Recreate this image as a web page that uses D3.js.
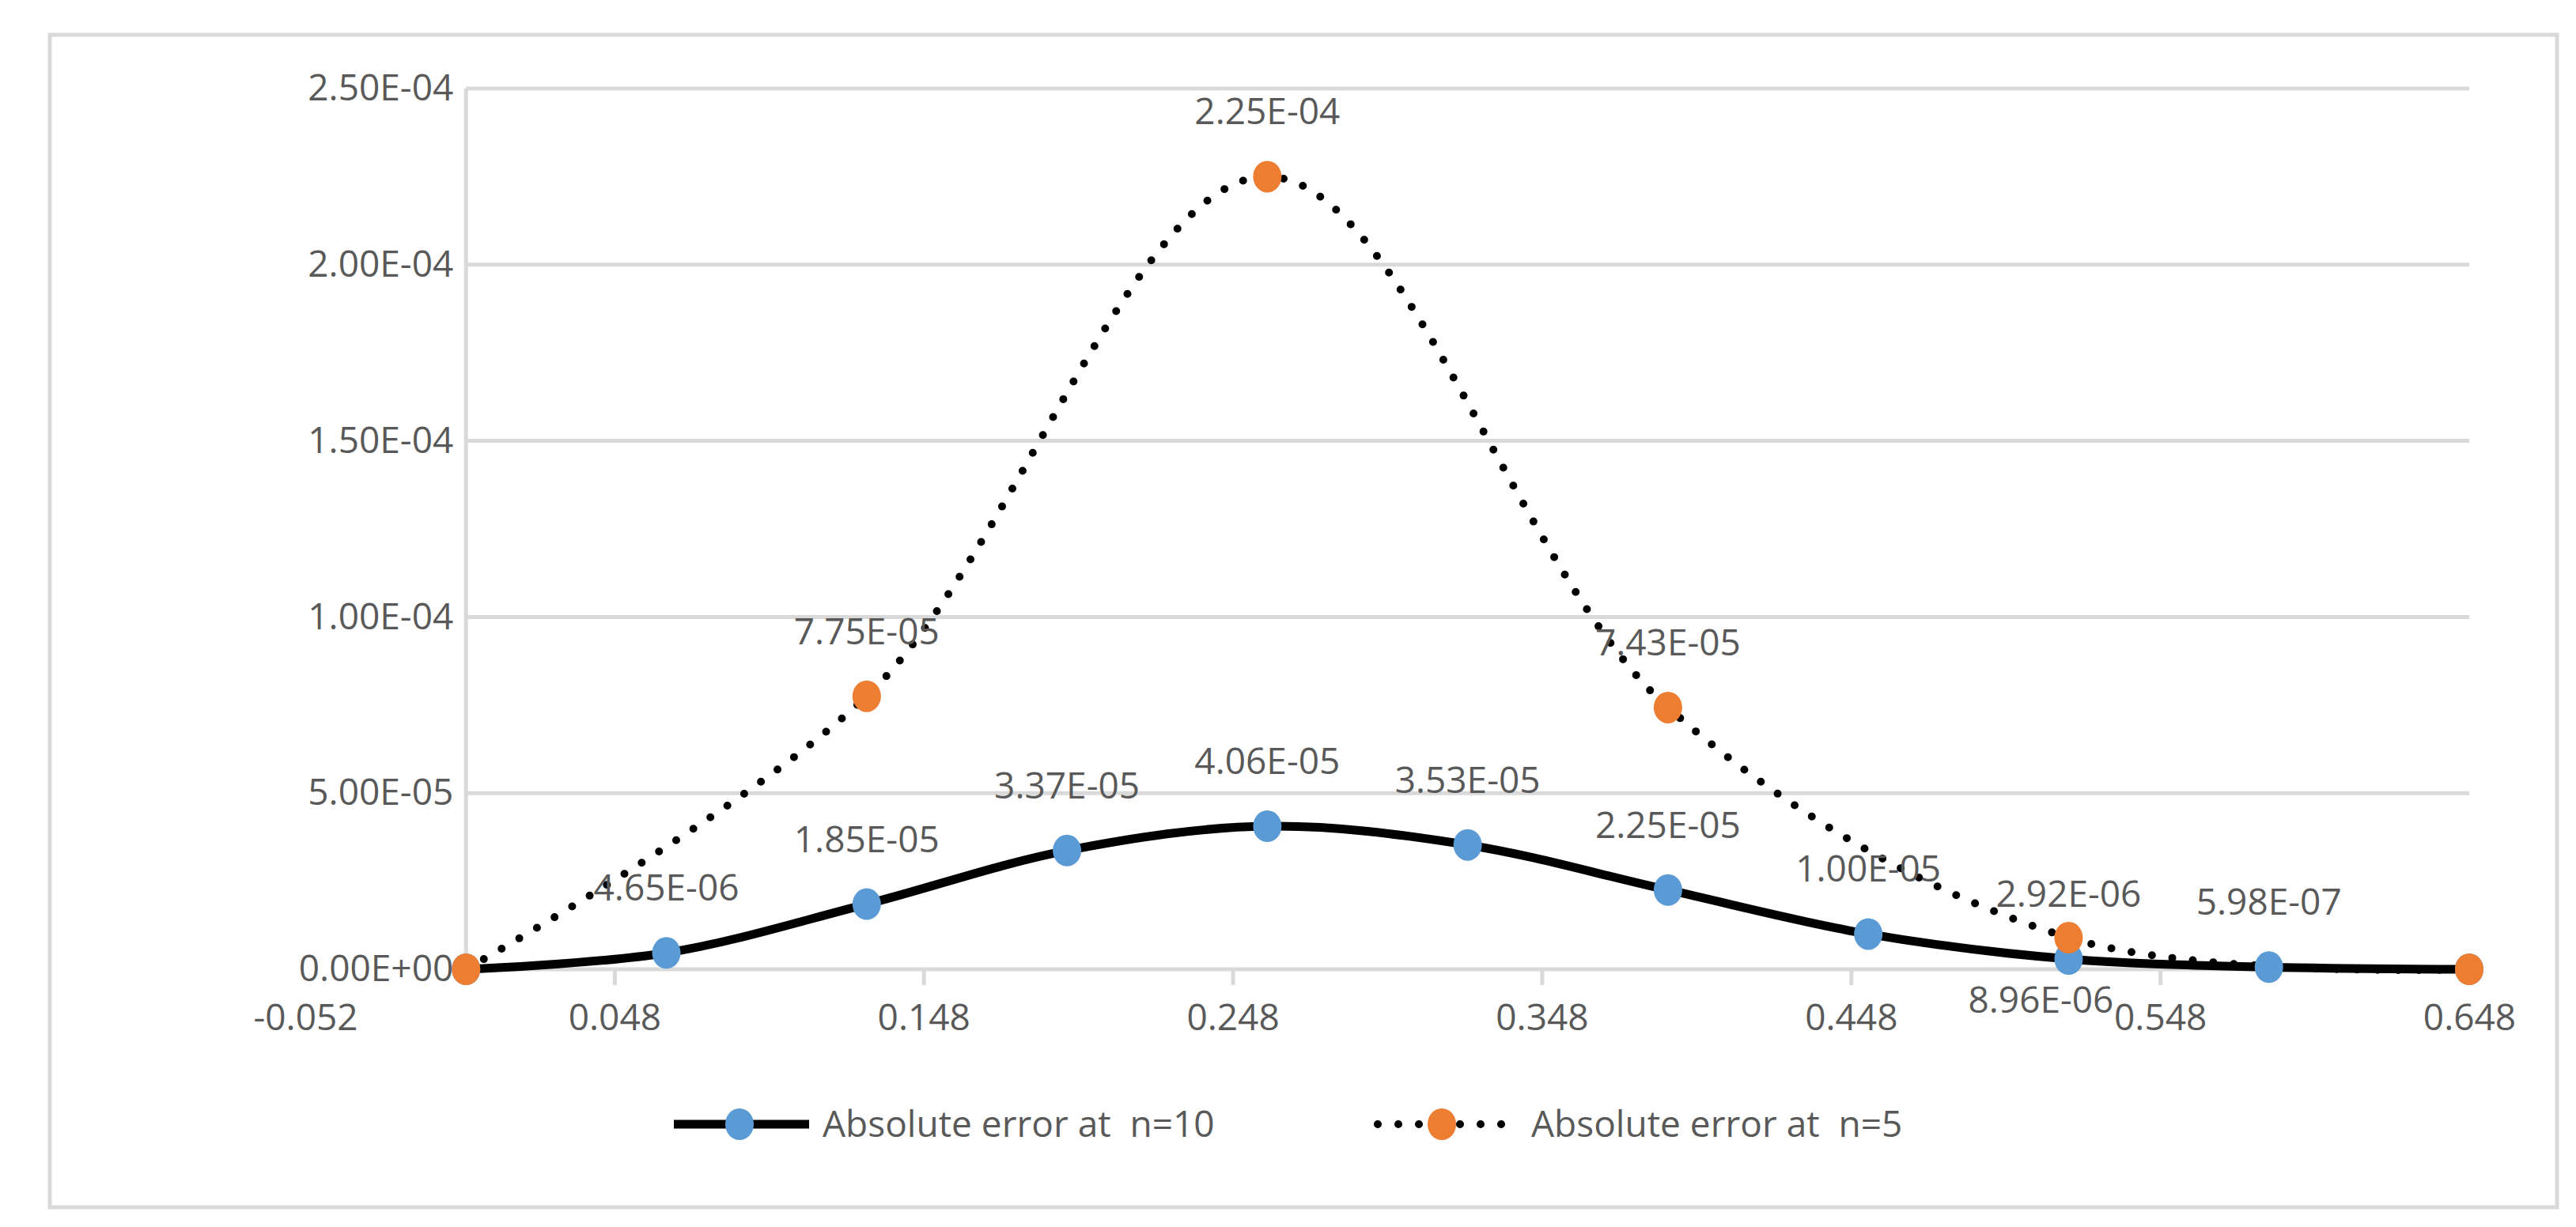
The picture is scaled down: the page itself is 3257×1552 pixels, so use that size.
<!DOCTYPE html>
<html><head><meta charset="utf-8">
<script src="https://cdn.jsdelivr.net/npm/d3@7"></script>
<style>body{margin:0;background:#fff}svg{display:block}text{white-space:pre}</style>
</head><body>
<script>
// data
const xs10 = [0, 0.0648, 0.1296, 0.1944, 0.2592, 0.324, 0.3888, 0.4536, 0.5184, 0.5832, 0.648];
const err10 = [0, 4.65e-6, 1.85e-5, 3.37e-5, 4.06e-5, 3.53e-5, 2.25e-5, 1.00e-5, 2.92e-6, 5.98e-7, 0];
const xs5 = [0, 0.1296, 0.2592, 0.3888, 0.5184, 0.648];
const err5 = [0, 7.75e-5, 2.25e-4, 7.43e-5, 8.96e-6, 0];
const xTicks = [-0.052, 0.048, 0.148, 0.248, 0.348, 0.448, 0.548, 0.648];
const yTicks = [0, 5e-5, 1e-4, 1.5e-4, 2e-4, 2.5e-4];
const names = ["Absolute error at  n=10", "Absolute error at  n=5"];

const W = 3257, H = 1552;
const font = "'Liberation Sans Narrow','Arial Narrow','Open Sans',sans-serif";
const txt = "#595959", grid = "#d9d9d9", blue = "#5b9bd5", orange = "#ed7d31";

const svg = d3.select("body").append("svg").attr("width", W).attr("height", H);
svg.append("rect").attr("x", 63).attr("y", 44).attr("width", 3170).attr("height", 1483)
  .attr("fill", "#fff").attr("stroke", grid).attr("stroke-width", 5);

const x = d3.scaleLinear().domain([-0.052, 0.648]).range([386, 3122]);
const y = d3.scaleLinear().domain([0, 2.5e-4]).range([1226, 112]);

// gridlines
svg.append("g").selectAll("line").data(yTicks).join("line")
  .attr("x1", x(0)).attr("x2", x(0.648)).attr("y1", d => y(d)).attr("y2", d => y(d))
  .attr("stroke", grid).attr("stroke-width", 5);
svg.append("line").attr("x1", x(0)).attr("x2", x(0)).attr("y1", y(2.5e-4)).attr("y2", y(0))
  .attr("stroke", grid).attr("stroke-width", 5);

// x axis
const xa = svg.append("g").attr("transform", `translate(0,${y(0)})`)
  .call(d3.axisBottom(x).tickValues(xTicks).tickFormat(d => d.toFixed(3)).tickSize(20).tickPadding(24));
xa.select(".domain").remove();
xa.selectAll("line").attr("stroke", grid).attr("stroke-width", 5);
xa.selectAll("text").attr("fill", txt).style("font", `46px ${font}`);
xa.selectAll(".tick").filter(d => d < 0).select("line").remove();

// y axis labels
const yfmt = d => d === 0 ? "0.00E+00" : d.toExponential(2).toUpperCase().replace(/E-(\d)$/, "E-0$1");
const ya = svg.append("g").attr("transform", `translate(${x(0)},0)`)
  .call(d3.axisLeft(y).tickValues(yTicks).tickFormat(yfmt).tickSize(0).tickPadding(16));
ya.select(".domain").remove();
ya.selectAll("text").attr("fill", txt).style("font", `46px ${font}`);

const curve = d3.curveCatmullRom.alpha(0.5);
const pts10 = xs10.map((v, i) => [v, err10[i]]);
const pts5 = xs5.map((v, i) => [v, err5[i]]);
const line = d3.line().x(d => x(d[0])).y(d => y(d[1])).curve(curve);

svg.append("path").attr("d", line(pts10)).attr("fill", "none").attr("stroke", "#000").attr("stroke-width", 11);
svg.append("path").attr("d", line(pts5)).attr("fill", "none").attr("stroke", "#000")
  .attr("stroke-width", 10).attr("stroke-dasharray", "0 26").attr("stroke-linecap", "round");

svg.append("g").selectAll("ellipse").data(pts10).join("ellipse")
  .attr("cx", d => x(d[0])).attr("cy", d => y(d[1])).attr("rx", 18).attr("ry", 20).attr("fill", blue);
svg.append("g").selectAll("ellipse").data(pts5).join("ellipse")
  .attr("cx", d => x(d[0])).attr("cy", d => y(d[1])).attr("rx", 18).attr("ry", 20).attr("fill", orange);

const efmt = d => d.toExponential(2).toUpperCase().replace(/E([+-])(\d)$/, "E$10$2");
const lab = svg.append("g").attr("fill", txt).style("font", `46px ${font}`).attr("text-anchor", "middle");
lab.selectAll(".l10").data(pts10.filter(d => d[1] > 0)).join("text")
  .attr("x", d => x(d[0])).attr("y", d => y(d[1]) - 66).text(d => efmt(d[1]));
lab.selectAll(".l5").data(pts5.filter(d => d[1] > 0)).join("text")
  .attr("x", d => x(d[0]) - (d[1] < 2e-5 ? 35 : 0))
  .attr("y", d => d[1] < 2e-5 ? y(d[1]) + 95 : y(d[1]) - 66).text(d => efmt(d[1]));

// legend
const lg = svg.append("g").style("font", `46px ${font}`).attr("fill", txt);
lg.append("line").attr("x1", 852).attr("x2", 1023).attr("y1", 1422).attr("y2", 1422)
  .attr("stroke", "#000").attr("stroke-width", 11);
lg.append("ellipse").attr("cx", 935).attr("cy", 1422).attr("rx", 18).attr("ry", 20).attr("fill", blue);
lg.append("text").attr("x", 1040).attr("y", 1438).text(names[0]);
lg.append("line").attr("x1", 1742).attr("x2", 1900).attr("y1", 1422).attr("y2", 1422)
  .attr("stroke", "#000").attr("stroke-width", 10).attr("stroke-dasharray", "0 26").attr("stroke-linecap", "round");
lg.append("ellipse").attr("cx", 1823).attr("cy", 1422).attr("rx", 18).attr("ry", 20).attr("fill", orange);
lg.append("text").attr("x", 1936).attr("y", 1438).text(names[1]);
</script>
</body></html>
